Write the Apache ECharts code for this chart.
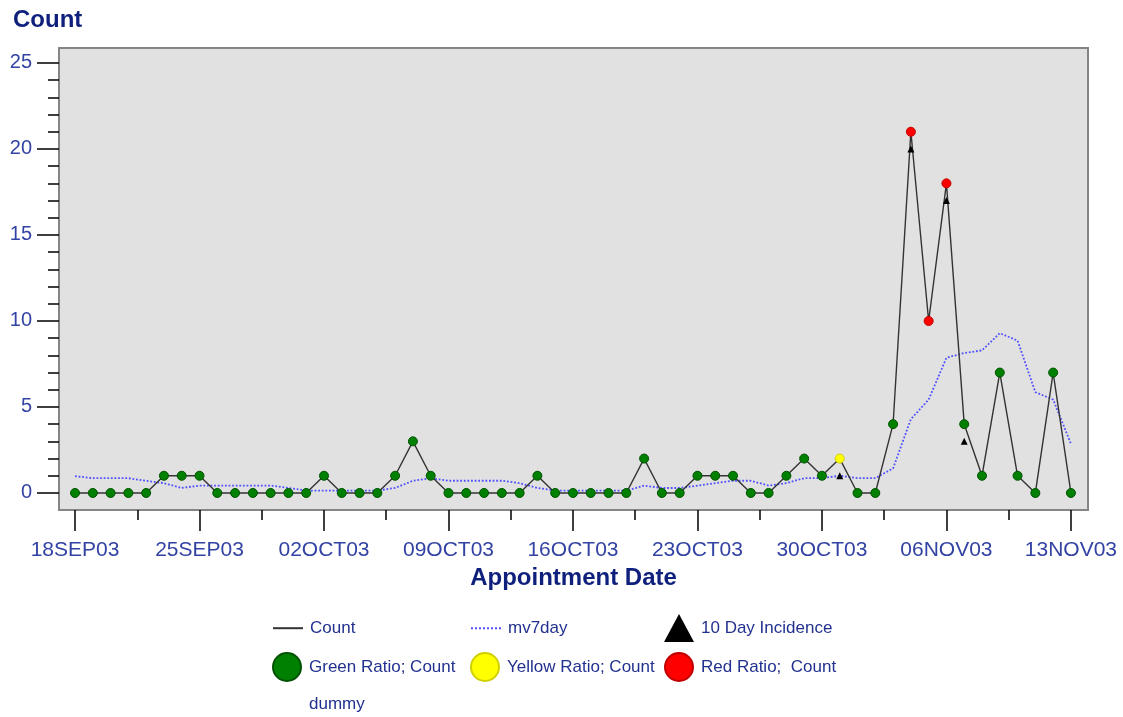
<!DOCTYPE html>
<html>
<head>
<meta charset="utf-8">
<title>Count by Appointment Date</title>
<script src="https://cdn.jsdelivr.net/npm/echarts@6/dist/echarts.min.js"></script>
<style>
  html, body { margin: 0; padding: 0; background: #fff; }
  #chart { width: 1123px; height: 717px; }
</style>
</head>
<body>
<div id="chart"></div>
<script>
// day 0 = 18SEP03, one value per day through 13NOV03
const tickDays = [0, 7, 14, 21, 28, 35, 42, 49, 56];
const tickLabels = ['18SEP03', '25SEP03', '02OCT03', '09OCT03', '16OCT03', '23OCT03', '30OCT03', '06NOV03', '13NOV03'];
const counts = [
  0, 0, 0, 0, 0, 1, 1, 1, 0, 0,
  0, 0, 0, 0, 1, 0, 0, 0, 1, 3,
  1, 0, 0, 0, 0, 0, 1, 0, 0, 0,
  0, 0, 2, 0, 0, 1, 1, 1, 0, 0,
  1, 2, 1, 2, 0, 0, 4, 21, 10, 18,
  4, 1, 7, 1, 0, 7, 0
];
const mv7day = [
  0.98, 0.86, 0.86, 0.86, 0.71, 0.57, 0.29, 0.43, 0.43, 0.43,
  0.43, 0.43, 0.29, 0.14, 0.14, 0.14, 0.14, 0.14, 0.29, 0.71,
  0.86, 0.71, 0.71, 0.71, 0.71, 0.57, 0.29, 0.14, 0.14, 0.14,
  0.14, 0.14, 0.43, 0.29, 0.29, 0.43, 0.57, 0.71, 0.71, 0.43,
  0.57, 0.86, 0.86, 1.0, 0.86, 0.86, 1.43, 4.29, 5.43, 7.86,
  8.14, 8.29, 9.29, 8.86, 5.86, 5.43, 2.86
];
const yellowDays = [43];
const redDays = [47, 48, 49];
const incidence = [[43, 1], [47, 20], [49, 17], [50, 3]];

const font = 'Liberation Sans, Arial, sans-serif';
const tickBlue = '#3343a3';
const navy = '#0f1f7c';

const countPts = counts.map((v, i) => [i, v]);
const greenPts = countPts.filter(p => !yellowDays.includes(p[0]) && !redDays.includes(p[0]));
const yellowPts = countPts.filter(p => yellowDays.includes(p[0]));
const redPts = countPts.filter(p => redDays.includes(p[0]));
const minorDays = tickDays.slice(1).map(d => d - 3.5);
const yMinor = Array.from({ length: 26 }, (_, i) => i);
const yMajor = [0, 5, 10, 15, 20, 25];

const xMin = -0.9, xMax = 56.96, yMin = -0.99, yMax = 25.87;

const chart = echarts.init(document.getElementById('chart'));

// one legend per entry so every row lines up like the original
function legendItem(item, left, top, itemHeight) {
  return {
    left: left, top: top, padding: 0,
    itemWidth: 30, itemHeight: itemHeight || 28,
    selectedMode: false,
    textStyle: { color: '#22318f', fontSize: 17, fontFamily: font, padding: [0, 0, 0, 2] },
    data: [item]
  };
}
// hide the symbol that echarts puts on a line series' legend icon
const lineOnly = { color: 'rgba(0,0,0,0)', borderWidth: 0 };
const tickLine = { color: '#000', width: 1.5 };

chart.setOption({
  animation: false,
  title: {
    text: 'Count', left: 8, top: 3,
    textStyle: { fontSize: 24, fontWeight: 'bold', color: navy, fontFamily: font }
  },
  grid: {
    left: 59, right: 35, top: 48, bottom: 207,
    show: true, backgroundColor: '#e1e1e1', borderColor: '#858585', borderWidth: 2,
    outerBoundsMode: 'none'
  },
  legend: [
    legendItem({ name: 'Count', itemStyle: lineOnly }, 272, 617),
    legendItem({ name: 'mv7day', itemStyle: lineOnly }, 470, 617),
    legendItem('10 Day Incidence', 664, 614),
    legendItem('Green Ratio; Count', 272, 652),
    legendItem('Yellow Ratio; Count', 470, 652),
    legendItem('Red Ratio;  Count', 664, 652),
    legendItem({ name: 'dummy', icon: 'rect', itemStyle: { opacity: 0 } }, 272, 693, 22)
  ],
  xAxis: [
    {
      type: 'value', min: xMin, max: xMax,
      axisLine: { show: false, onZero: false }, splitLine: { show: false },
      axisTick: { show: true, length: 21, customValues: tickDays, lineStyle: tickLine },
      axisLabel: {
        customValues: tickDays, formatter: v => tickLabels[tickDays.indexOf(v)],
        margin: 30, color: tickBlue, fontSize: 21, fontFamily: font
      },
      name: 'Appointment Date', nameLocation: 'middle', nameGap: 56,
      nameTextStyle: { fontSize: 24, fontWeight: 'bold', color: navy, fontFamily: font }
    },
    {
      type: 'value', min: xMin, max: xMax, position: 'bottom',
      axisLine: { show: false, onZero: false }, splitLine: { show: false },
      axisTick: { show: true, length: 10, customValues: minorDays, lineStyle: tickLine },
      axisLabel: { show: false }
    }
  ],
  yAxis: [
    {
      type: 'value', min: yMin, max: yMax, position: 'left',
      axisLine: { show: false, onZero: false }, splitLine: { show: false },
      axisTick: { show: true, length: 11, customValues: yMinor, lineStyle: tickLine },
      axisLabel: { show: false }
    },
    {
      type: 'value', min: yMin, max: yMax, position: 'left',
      axisLine: { show: false, onZero: false }, splitLine: { show: false },
      axisTick: { show: true, length: 22, customValues: yMajor, lineStyle: tickLine },
      axisLabel: {
        customValues: yMajor, margin: 27, color: tickBlue, fontSize: 20, fontFamily: font,
        padding: [4, 0, 0, 0]
      }
    }
  ],
  series: [
    {
      name: 'mv7day', type: 'line', data: mv7day.map((v, i) => [i, v]), symbol: 'none', z: 1,
      lineStyle: { color: '#5050ff', width: 1.8, type: 'dotted' }, itemStyle: { color: '#5050ff' }
    },
    {
      name: 'Count', type: 'line', data: countPts, symbol: 'none', z: 2,
      lineStyle: { color: '#333', width: 1.4 }, itemStyle: { color: '#000' }
    },
    {
      name: '10 Day Incidence', type: 'scatter', data: incidence, symbol: 'triangle', symbolSize: 7, z: 3,
      itemStyle: { color: '#000', opacity: 1 }
    },
    {
      name: 'Green Ratio; Count', type: 'scatter', data: greenPts, symbolSize: 9, z: 4,
      itemStyle: { color: '#008000', borderColor: '#005200', borderWidth: 1, opacity: 1 }
    },
    {
      name: 'Yellow Ratio; Count', type: 'scatter', data: yellowPts, symbolSize: 9, z: 4,
      itemStyle: { color: '#ffff00', borderColor: '#d0d000', borderWidth: 1, opacity: 1 }
    },
    {
      name: 'Red Ratio;  Count', type: 'scatter', data: redPts, symbolSize: 9, z: 4,
      itemStyle: { color: '#ff0000', borderColor: '#c00000', borderWidth: 1, opacity: 1 }
    },
    { name: 'dummy', type: 'line', data: [] }
  ]
});
</script>
</body>
</html>
